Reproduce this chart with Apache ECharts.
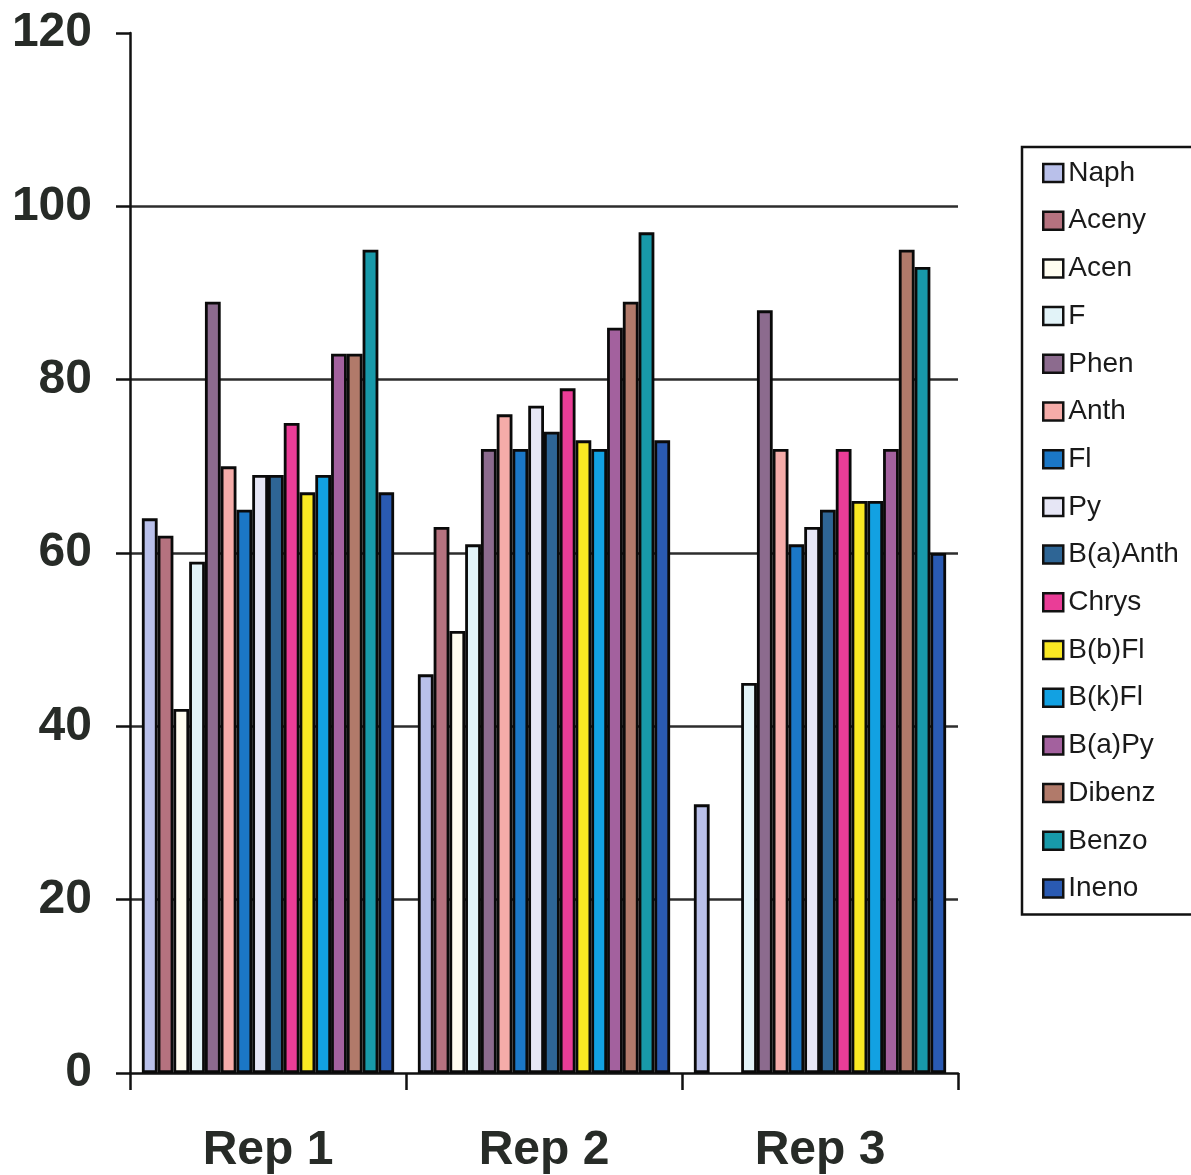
<!DOCTYPE html>
<html>
<head>
<meta charset="utf-8">
<style>
  html, body { margin: 0; padding: 0; background: #fff; }
  #chart { width: 1191px; height: 1175px; }
</style>
<script src="https://cdn.jsdelivr.net/npm/echarts@6/dist/echarts.min.js"></script>
</head>
<body>
<div id="chart"></div>
<script>
// Replicates
const categories = ['Rep 1', 'Rep 2', 'Rep 3'];

// Recovery (%) per compound, one value per replicate
const naph    = [64, 46, 31];
const aceny   = [62, 63, null];
const acen    = [42, 51, null];
const fluor   = [59, 61, 45];
const phen    = [89, 72, 88];
const anth    = [70, 76, 72];
const fl      = [65, 72, 61];
const py      = [69, 77, 63];
const baAnth  = [69, 74, 65];
const chrys   = [75, 79, 72];
const bbFl    = [67, 73, 66];
const bkFl    = [69, 72, 66];
const baPy    = [83, 86, 72];
const dibenz  = [83, 89, 95];
const benzo   = [95, 97, 93];
const ineno   = [67, 73, 60];

const seriesNames = ['Naph', 'Aceny', 'Acen', 'F', 'Phen', 'Anth', 'Fl', 'Py',
  'B(a)Anth', 'Chrys', 'B(b)Fl', 'B(k)Fl', 'B(a)Py', 'Dibenz', 'Benzo', 'Ineno'];
const seriesValues = [naph, aceny, acen, fluor, phen, anth, fl, py,
  baAnth, chrys, bbFl, bkFl, baPy, dibenz, benzo, ineno];
const seriesColors = ['#b9c0ea', '#b5727f', '#fffdf0', '#e2f3f8', '#8c6b8e', '#f5aca9',
  '#1b77c6', '#e6e6f5', '#2e6595', '#ea3d97', '#f9e823', '#12a1e2',
  '#a3619e', '#b17a6a', '#1899a9', '#2a5ab2'];

const yTicks = [0, 20, 40, 60, 80, 100, 120];

const chart = echarts.init(document.getElementById('chart'), null, { renderer: 'canvas' });

const labelFont = 'Liberation Sans, Arial, sans-serif';

chart.setOption({
  backgroundColor: '#ffffff',
  animation: false,
  grid: { left: 130, right: 233, top: 33, bottom: 102, containLabel: false },
  legend: {
    orient: 'vertical',
    left: 1022,
    top: 147,
    padding: [12, 24, 12, 20],
    borderColor: '#111',
    borderWidth: 2.5,
    backgroundColor: '#fff',
    itemWidth: 20,
    itemHeight: 18,
    itemGap: 19.7,
    icon: 'rect',
    itemStyle: { borderColor: '#111', borderWidth: 2.5 },
    textStyle: { fontFamily: labelFont, fontSize: 28, lineHeight: 28, color: '#1a1a1a' },
    data: seriesNames
  },
  xAxis: {
    type: 'category',
    data: categories,
    axisLine: { lineStyle: { color: '#111', width: 2.5 } },
    axisTick: { show: true, length: 17, lineStyle: { color: '#111', width: 2.5 } },
    axisLabel: {
      fontFamily: labelFont, fontSize: 48, fontWeight: 'bold', color: '#272b27', margin: 54
    }
  },
  yAxis: {
    type: 'value',
    min: yTicks[0],
    max: yTicks[yTicks.length - 1],
    interval: 20,
    axisLine: { show: true, lineStyle: { color: '#111', width: 2.5 } },
    axisTick: { show: true, length: 14, lineStyle: { color: '#111', width: 2.5 } },
    axisLabel: {
      fontFamily: labelFont, fontSize: 48, fontWeight: 'bold', color: '#272b27', margin: 38
    },
    splitLine: {
      show: true,
      showMinLine: false,
      showMaxLine: false,
      lineStyle: { color: '#2d2d2d', width: 2.5 }
    }
  },
  series: seriesNames.map((name, i) => ({
    name: name,
    type: 'bar',
    data: seriesValues[i],
    barGap: '0%',
    barCategoryGap: '8.6%',
    itemStyle: { color: seriesColors[i], borderColor: '#0a0a0a', borderWidth: 2.8 }
  }))
});
</script>
</body>
</html>
